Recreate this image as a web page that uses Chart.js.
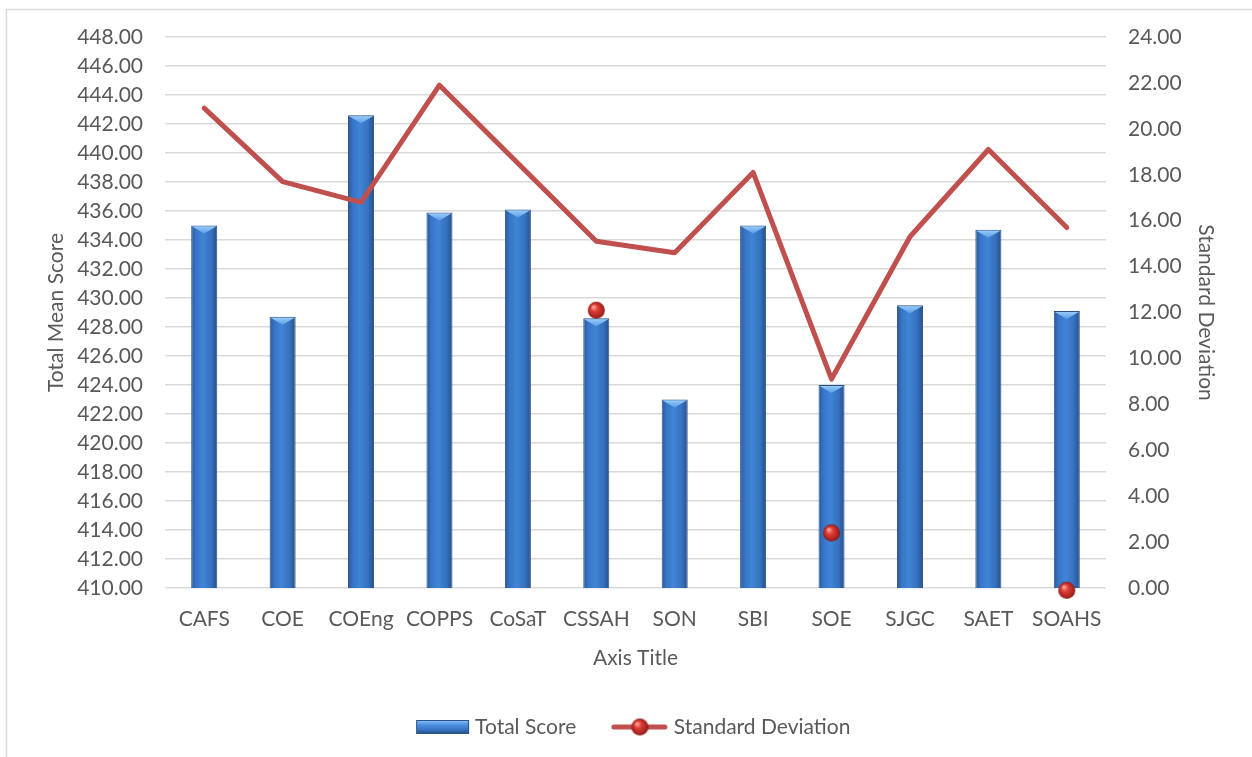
<!DOCTYPE html>
<html>
<head>
<meta charset="utf-8">
<script src="https://cdn.jsdelivr.net/npm/chart.js@4"></script>
<style>
  html, body { margin: 0; padding: 0; background: #ffffff; overflow: hidden; }
  #c { display: block; }
</style>
</head>
<body>
<canvas id="c" width="1252" height="757" style="width:1252px;height:757px"></canvas>
<script>
// ---- data ----
const categories = ['CAFS', 'COE', 'COEng', 'COPPS', 'CoSaT', 'CSSAH', 'SON', 'SBI', 'SOE', 'SJGC', 'SAET', 'SOAHS'];
const totalScore = [435.0, 428.7, 442.6, 435.9, 436.1, 428.6, 423.0, 435.0, 424.0, 429.5, 434.7, 429.1];
const stdDev = [20.9, 17.7, 16.8, 21.9, 18.5, 15.1, 14.6, 18.1, 9.1, 15.3, 19.1, 15.7];
const stdDevMarkers = [null, null, null, null, null, 12.1, null, null, 2.4, null, null, -0.1];
const leftTicks = { min: 410, max: 448, step: 2 };
const rightTicks = { min: 0, max: 24, step: 2 };
const seriesNames = ['Total Score', 'Standard Deviation'];
const axisTitles = { x: 'Axis Title', left: 'Total Mean Score', right: 'Standard Deviation' };

// ---- styles ----
const FONT = 'Lato, "Open Sans", "Liberation Sans", sans-serif';
const TEXT = '#595959';
const GRID = '#d9d9d9';
const RED = '#c0504d';
const BAR_PCT = 0.332;

function makeBall(r) {
  const c = document.createElement('canvas');
  c.width = r * 2 + 2; c.height = r * 2 + 2;
  const g = c.getContext('2d');
  const cx = r + 1, cy = r + 1;
  const grad = g.createRadialGradient(cx - r * 0.35, cy - r * 0.4, r * 0.1, cx, cy, r);
  grad.addColorStop(0, '#ff9d95');
  grad.addColorStop(0.35, '#dc3f38');
  grad.addColorStop(0.8, '#b02520');
  grad.addColorStop(1, '#7e1714');
  g.fillStyle = grad;
  g.beginPath(); g.arc(cx, cy, r, 0, Math.PI * 2); g.fill();
  return c;
}
const ballImg = makeBall(8.5);

function makeBarIcon() {
  const W = 88, H = 14;
  const c = document.createElement('canvas');
  c.width = W; c.height = H;
  const g = c.getContext('2d');
  const x0 = W - 55, w = 53;
  const grad = g.createLinearGradient(0, 0, 0, H);
  grad.addColorStop(0, '#8cc6fa');
  grad.addColorStop(0.35, '#4d90e0');
  grad.addColorStop(0.7, '#3673c2');
  grad.addColorStop(1, '#22467a');
  g.fillStyle = grad;
  g.fillRect(x0, 0.5, w, H - 1);
  g.strokeStyle = '#2b5185';
  g.lineWidth = 1;
  g.strokeRect(x0 + 0.5, 0.5, w - 1, H - 1);
  return c;
}
function makeLineIcon() {
  const W = 88, H = 20;
  const c = document.createElement('canvas');
  c.width = W; c.height = H;
  const g = c.getContext('2d');
  const x0 = W - 59;
  g.strokeStyle = RED; g.lineWidth = 5; g.lineCap = 'round';
  g.beginPath(); g.moveTo(x0 + 3, H / 2); g.lineTo(W - 5, H / 2); g.stroke();
  g.drawImage(ballImg, x0 + 29 - ballImg.width / 2, H / 2 - ballImg.height / 2);
  return c;
}
const barIcon = makeBarIcon();
const lineIcon = makeLineIcon();

function barGradient(c) {
  const chart = c.chart;
  const area = chart.chartArea;
  const xs = chart.scales.x;
  if (!area || !xs || c.dataIndex == null) return '#3a78c8';
  const cx = xs.getPixelForValue(c.dataIndex);
  const w = (area.right - area.left) / categories.length * BAR_PCT;
  const g = chart.ctx.createLinearGradient(cx - w / 2, 0, cx + w / 2, 0);
  g.addColorStop(0, '#2a5897');
  g.addColorStop(0.18, '#3674c6');
  g.addColorStop(0.45, '#4184d6');
  g.addColorStop(0.78, '#3571be');
  g.addColorStop(1, '#264d86');
  return g;
}

const framePlugin = {
  id: 'frame',
  beforeDraw(chart) {
    const ctx = chart.ctx;
    ctx.save();
    ctx.fillStyle = '#ffffff';
    ctx.fillRect(0, 0, chart.width, chart.height);
    ctx.strokeStyle = '#d9d9d9';
    ctx.lineWidth = 1.5;
    ctx.beginPath();
    ctx.moveTo(6.5, chart.height);
    ctx.lineTo(6.5, 9.5);
    ctx.lineTo(chart.width, 9.5);
    ctx.stroke();
    ctx.restore();
  }
};

const bevelPlugin = {
  id: 'bevel',
  afterDatasetDraw(chart, args) {
    if (args.index !== 0) return;
    const ctx = chart.ctx;
    ctx.save();
    args.meta.data.forEach(el => {
      const p = el.getProps(['x', 'y', 'width']);
      const l = p.x - p.width / 2 + 1, r = p.x + p.width / 2 - 1;
      const g = ctx.createLinearGradient(0, p.y, 0, p.y + 8);
      g.addColorStop(0, '#9fd0fb');
      g.addColorStop(1, '#5a9ee6');
      ctx.fillStyle = g;
      ctx.beginPath();
      ctx.moveTo(l, p.y + 1);
      ctx.lineTo(r, p.y + 1);
      ctx.lineTo(p.x, p.y + 8);
      ctx.closePath();
      ctx.fill();
    });
    ctx.restore();
  }
};

new Chart(document.getElementById('c'), {
  type: 'bar',
  data: {
    labels: categories,
    datasets: [
      {
        type: 'bar',
        label: seriesNames[0],
        data: totalScore,
        yAxisID: 'y',
        backgroundColor: barGradient,
        borderColor: '#2b5187',
        borderWidth: 1,
        barPercentage: BAR_PCT,
        categoryPercentage: 1,
        order: 3
      },
      {
        type: 'line',
        label: seriesNames[1],
        data: stdDev,
        yAxisID: 'y1',
        borderColor: RED,
        borderWidth: 5,
        pointRadius: 0,
        tension: 0,
        borderJoinStyle: 'round',
        borderCapStyle: 'round',
        order: 2
      },
      {
        type: 'line',
        label: seriesNames[1] + ' ',
        data: stdDevMarkers,
        yAxisID: 'y1',
        showLine: false,
        pointStyle: ballImg,
        pointRadius: 9,
        clip: false,
        order: 1
      }
    ]
  },
  options: {
    responsive: false,
    animation: false,
    devicePixelRatio: 1,
    layout: { padding: { left: 0, right: 12, top: 37, bottom: 9.5 } },
    plugins: {
      tooltip: { enabled: false },
      legend: {
        position: 'bottom',
        labels: {
          usePointStyle: true,
          pointStyleWidth: 75,
          padding: 12,
          color: TEXT,
          font: { family: FONT, size: 21 },
          generateLabels: () => [
            { text: seriesNames[0], pointStyle: barIcon, fillStyle: '#3a78c8', strokeStyle: '#3a78c8', lineWidth: 0, hidden: false, datasetIndex: 0, fontColor: TEXT },
            { text: seriesNames[1], pointStyle: lineIcon, fillStyle: RED, strokeStyle: RED, lineWidth: 0, hidden: false, datasetIndex: 1, fontColor: TEXT }
          ]
        }
      }
    },
    scales: {
      x: {
        type: 'category',
        offset: true,
        grid: { display: false },
        border: { display: false },
        ticks: { color: TEXT, font: { family: FONT, size: 21 }, padding: 11, maxRotation: 0, autoSkip: false },
        title: { display: true, text: axisTitles.x, color: TEXT, font: { family: FONT, size: 21 }, padding: { top: 0, bottom: 34 } },
        afterFit: s => { s.height = 116.5; }
      },
      y: {
        position: 'left',
        min: leftTicks.min,
        max: leftTicks.max,
        grid: { color: GRID, lineWidth: 1.5, drawTicks: false },
        border: { display: false },
        ticks: { stepSize: leftTicks.step, callback: v => Number(v).toFixed(2), color: TEXT, font: { family: FONT, size: 21 }, padding: 22 },
        title: { display: true, text: axisTitles.left, color: TEXT, font: { family: FONT, size: 21 }, padding: { top: 44, bottom: 0 } },
        afterFit: s => { s.width = 165; }
      },
      y1: {
        position: 'right',
        min: rightTicks.min,
        max: rightTicks.max,
        grid: { drawOnChartArea: false, drawTicks: false },
        border: { display: false },
        ticks: { stepSize: rightTicks.step, callback: v => Number(v).toFixed(2), color: TEXT, font: { family: FONT, size: 21 }, padding: 22 },
        title: { display: true, text: axisTitles.right, color: TEXT, font: { family: FONT, size: 21 }, padding: { top: 22, bottom: 0 } },
        afterFit: s => { s.width = 134; }
      }
    }
  },
  plugins: [framePlugin, bevelPlugin]
});
</script>
</body>
</html>
